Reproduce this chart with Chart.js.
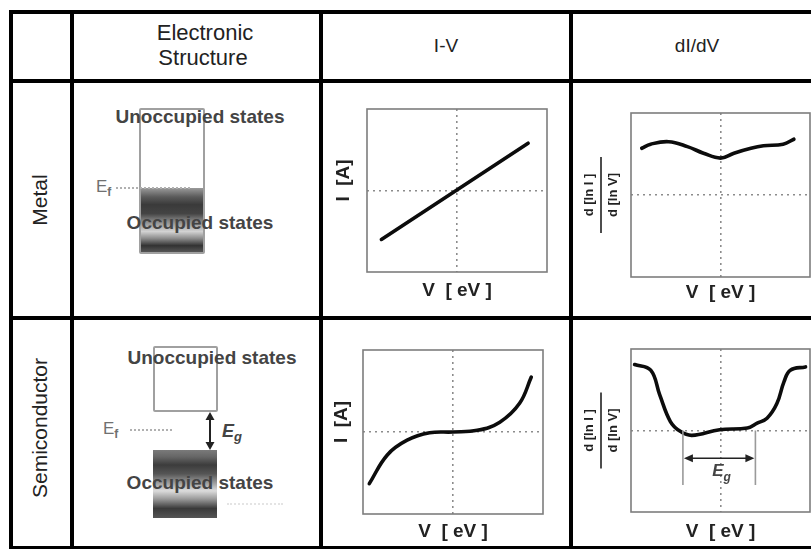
<!DOCTYPE html>
<html>
<head>
<meta charset="utf-8">
<script src="https://cdn.jsdelivr.net/npm/chart.js@4.4.1/dist/chart.umd.min.js"></script>
<style>
  body { margin: 0; width: 811px; height: 550px; overflow: hidden; background: #fff; position: relative;
         font-family: "Liberation Sans", Arial, sans-serif; }
  .ln { position: absolute; background: #000; }
  .t { position: absolute; white-space: nowrap; text-align: center; line-height: 24px; }
  .head { color: #222; font-size: 19px; }
  .rowlab { color: #222; font-size: 21px; width: 200px; transform: rotate(-90deg); }
  .state { color: #444; font-size: 19px; font-weight: bold; width: 300px; }
  .band { position: absolute; box-sizing: border-box; border: 2px solid #a0a0a0; border-radius: 2px; }
  .ef { position: absolute; color: #707070; font-size: 17px; line-height: 16px; }
  .ef sub { font-size: 12px; vertical-align: -4px; font-weight: bold; }
  .dots { position: absolute; height: 0; border-top: 2px dotted #b0b0b0; }
  .plot { position: absolute; }
</style>
</head>
<body>

<!-- table grid -->
<div class="ln" style="left:9px;top:10px;width:810px;height:4px"></div>
<div class="ln" style="left:9px;top:79px;width:810px;height:4px"></div>
<div class="ln" style="left:9px;top:316px;width:810px;height:4px"></div>
<div class="ln" style="left:9px;top:546px;width:810px;height:3px"></div>
<div class="ln" style="left:9px;top:10px;width:4px;height:539px"></div>
<div class="ln" style="left:70px;top:10px;width:4px;height:539px"></div>
<div class="ln" style="left:319px;top:10px;width:4px;height:539px"></div>
<div class="ln" style="left:569px;top:10px;width:4px;height:539px"></div>

<!-- header row -->
<div class="t head" style="left:105px;width:200px;top:21px;font-size:22px">Electronic</div>
<div class="t head" style="left:103px;width:200px;top:46px;font-size:22px">Structure</div>
<div class="t head" style="left:346px;width:200px;top:34px">I-V</div>
<div class="t head" style="left:597px;width:200px;top:34px">dI/dV</div>

<!-- row titles -->
<div class="t rowlab" style="left:-60px;top:188px">Metal</div>
<div class="t rowlab" style="left:-60px;top:416px">Semiconductor</div>

<!-- metal band diagram -->
<div class="band" style="left:139px;top:108px;width:66px;height:146px"></div>
<div style="position:absolute;left:141px;top:188px;width:62px;height:64px;
  background:linear-gradient(#9a9a9a 0%, #5a5a5a 14%, #3a3a3a 26%, #444 40%, #888 52%, #d2d2d2 68%, #8a8a8a 79%, #333 90%, #555 100%)"></div>
<div class="ef" style="left:96px;top:179px">E<sub>f</sub></div>
<div class="dots" style="left:116px;top:187px;width:74px"></div>
<div class="t state" style="left:50px;top:105px">Unoccupied states</div>
<div class="t state" style="left:50px;top:211px">Occupied states</div>

<!-- semiconductor band diagram -->
<div class="band" style="left:153px;top:346px;width:65px;height:66px"></div>
<div style="position:absolute;left:153px;top:450px;width:64px;height:68px;
  background:linear-gradient(#7a7a7a 0%, #666 10%, #3c3c3c 22%, #555 35%, #9a9a9a 48%, #dcdcdc 60%, #9a9a9a 72%, #3a3a3a 86%, #555 100%)"></div>
<div class="ef" style="left:103px;top:421px">E<sub>f</sub></div>
<div class="dots" style="left:130px;top:429px;width:42px"></div>
<div class="dots" style="left:227px;top:503px;width:56px;border-top-color:#e4e4e4"></div>
<svg style="position:absolute;left:200px;top:410px" width="20" height="44">
  <line x1="10" y1="8" x2="10" y2="34" stroke="#222" stroke-width="2"/>
  <polygon points="10,2 5.5,10 14.5,10" fill="#222"/>
  <polygon points="10,40 5.5,32 14.5,32" fill="#222"/>
</svg>
<div class="ef" style="left:222px;top:423px;color:#444;font-size:18px;font-style:italic;font-weight:bold">E<sub style="font-size:13px">g</sub></div>
<div class="t state" style="left:62px;top:346px">Unoccupied states</div>
<div class="t state" style="left:50px;top:471px">Occupied states</div>

<!-- plots -->
<canvas class="plot" id="metalIv"></canvas>
<canvas class="plot" id="metalDidv"></canvas>
<canvas class="plot" id="semiIv"></canvas>
<canvas class="plot" id="semiDidv"></canvas>

<script>
// axis labels
const xTitle = 'V  [ eV ]';
const ivTitle = 'I  [A]';
const didvTop = 'd [ln I ]';
const didvBottom = 'd [ln V]';

// metal: ohmic I-V
const metalIvV = [-0.84, 0.79];
const metalIvI = [-0.60, 0.58];

// metal: normalized conductance
const metalDidvV = [-0.88, -0.78, -0.58, -0.37, -0.19, 0.00, 0.15, 0.34, 0.48, 0.70, 0.82];
const metalDidvG = [0.57, 0.62, 0.65, 0.59, 0.51, 0.45, 0.51, 0.57, 0.60, 0.62, 0.68];

// semiconductor: I-V with flat region inside the gap
const semiIvV = [-0.93, -0.73, -0.51, -0.26, 0.00, 0.27, 0.52, 0.74, 0.87];
const semiIvI = [-0.63, -0.28, -0.10, -0.01, 0.00, 0.02, 0.12, 0.35, 0.67];

// semiconductor: normalized conductance
const semiDidvV = [-0.96, -0.78, -0.68, -0.56, -0.45, -0.32, -0.01, 0.30, 0.41, 0.52, 0.63, 0.71, 0.78, 0.95];
const semiDidvG = [0.81, 0.74, 0.44, 0.11, -0.01, -0.06, 0.01, 0.03, 0.09, 0.15, 0.33, 0.60, 0.74, 0.78];

// band gap edges marked under the dI/dV curve
const gapEdges = [-0.42, 0.39];

function pts(xs, ys) { return xs.map((x, i) => ({ x: x, y: ys[i] })); }

const cellDecor = {
  id: 'cellDecor',
  beforeDatasetsDraw(chart) {
    const a = chart.chartArea, ctx = chart.ctx;
    ctx.save();
    ctx.strokeStyle = '#7d7d7d';
    ctx.lineWidth = 1.6;
    ctx.strokeRect(a.left, a.top, a.right - a.left, a.bottom - a.top);
    ctx.restore();
  },
  afterDatasetsDraw(chart) {
    const o = chart.options.plugins.cellDecor;
    if (!o.gap) return;
    const ctx = chart.ctx, xs = chart.scales.x, ys = chart.scales.y;
    const x1 = xs.getPixelForValue(o.gap[0]), x2 = xs.getPixelForValue(o.gap[1]);
    const y0 = ys.getPixelForValue(0), y1 = ys.getPixelForValue(-0.67);
    const ya = ys.getPixelForValue(-0.34);
    ctx.save();
    ctx.strokeStyle = '#9a9a9a';
    ctx.lineWidth = 1.6;
    ctx.beginPath();
    ctx.moveTo(x1, y0); ctx.lineTo(x1, y1);
    ctx.moveTo(x2, y0); ctx.lineTo(x2, y1);
    ctx.stroke();
    ctx.strokeStyle = '#222';
    ctx.fillStyle = '#222';
    ctx.lineWidth = 1.6;
    ctx.beginPath();
    ctx.moveTo(x1 + 6, ya); ctx.lineTo(x2 - 6, ya);
    ctx.stroke();
    ctx.beginPath();
    ctx.moveTo(x1 + 1, ya); ctx.lineTo(x1 + 10, ya - 4); ctx.lineTo(x1 + 10, ya + 4); ctx.closePath();
    ctx.moveTo(x2 - 1, ya); ctx.lineTo(x2 - 10, ya - 4); ctx.lineTo(x2 - 10, ya + 4); ctx.closePath();
    ctx.fill();
    const xm = xs.getPixelForValue(0), ym = ys.getPixelForValue(-0.5);
    ctx.fillStyle = '#444';
    ctx.font = 'italic bold 17px "Liberation Sans", Arial, sans-serif';
    ctx.textAlign = 'right';
    ctx.textBaseline = 'middle';
    ctx.fillText('E', xm + 3, ym);
    ctx.textAlign = 'left';
    ctx.font = 'italic bold 12px "Liberation Sans", Arial, sans-serif';
    ctx.fillText('g', xm + 3, ym + 6);
    ctx.restore();
  },
  afterDraw(chart) {
    const o = chart.options.plugins.cellDecor;
    const a = chart.chartArea, ctx = chart.ctx;
    const cx = (a.left + a.right) / 2, cy = (a.top + a.bottom) / 2;
    ctx.save();
    ctx.fillStyle = '#222';
    ctx.textAlign = 'center';
    ctx.textBaseline = 'middle';
    ctx.font = 'bold 19px "Liberation Sans", Arial, sans-serif';
    ctx.fillText(xTitle, cx, a.bottom + o.xGap);
    ctx.translate(a.left - o.yGap, cy + o.yShift);
    ctx.rotate(-Math.PI / 2);
    if (o.fraction) {
      ctx.font = 'bold 13px "Liberation Sans", Arial, sans-serif';
      ctx.fillText(didvTop, 0, -12);
      ctx.fillText(didvBottom, 0, 12);
      ctx.fillRect(-38, -0.8, 76, 1.6);
    } else {
      ctx.fillText(ivTitle, 0, 0);
    }
    ctx.restore();
  }
};

function axis() {
  return {
    type: 'linear', min: -1, max: 1,
    ticks: { display: false, stepSize: 1 },
    grid: {
      drawTicks: false, lineWidth: 1.6,
      color: c => (c.tick && c.tick.value === 0) ? '#8c8c8c' : 'rgba(0,0,0,0)'
    },
    border: { display: false, dash: [2, 4] }
  };
}

// frame: plot area rectangle in page pixels
function plot(id, frame, data, decor, tension) {
  const pad = { left: 60, top: 20, right: 20, bottom: 32 };
  const cv = document.getElementById(id);
  cv.width = frame.w + pad.left + pad.right;
  cv.height = frame.h + pad.top + pad.bottom;
  cv.style.left = (frame.x - pad.left) + 'px';
  cv.style.top = (frame.y - pad.top) + 'px';
  new Chart(cv, {
    type: 'line',
    data: {
      datasets: [{
        data: data,
        borderColor: '#0c0c0c',
        borderWidth: 3.6,
        pointRadius: 0,
        tension: tension,
        fill: false,
        borderCapStyle: 'round'
      }]
    },
    options: {
      responsive: false,
      animation: false,
      devicePixelRatio: 1,
      events: [],
      layout: { padding: pad },
      scales: { x: axis(), y: axis() },
      plugins: { legend: { display: false }, tooltip: { enabled: false }, cellDecor: decor }
    },
    plugins: [cellDecor]
  });
}

plot('metalIv', { x: 367, y: 109, w: 180, h: 163 }, pts(metalIvV, metalIvI),
  { xGap: 19, yGap: 23, yShift: -10 }, 0);
plot('metalDidv', { x: 631, y: 113, w: 179, h: 164 }, pts(metalDidvV, metalDidvG),
  { xGap: 16, yGap: 30, yShift: 0, fraction: true }, 0.4);
plot('semiIv', { x: 363, y: 350, w: 180, h: 164 }, pts(semiIvV, semiIvI),
  { xGap: 18, yGap: 21, yShift: -10 }, 0.4);
plot('semiDidv', { x: 631, y: 349, w: 179, h: 163 }, pts(semiDidvV, semiDidvG),
  { xGap: 20, yGap: 30, yShift: 0, fraction: true, gap: gapEdges }, 0.4);
</script>
</body>
</html>
